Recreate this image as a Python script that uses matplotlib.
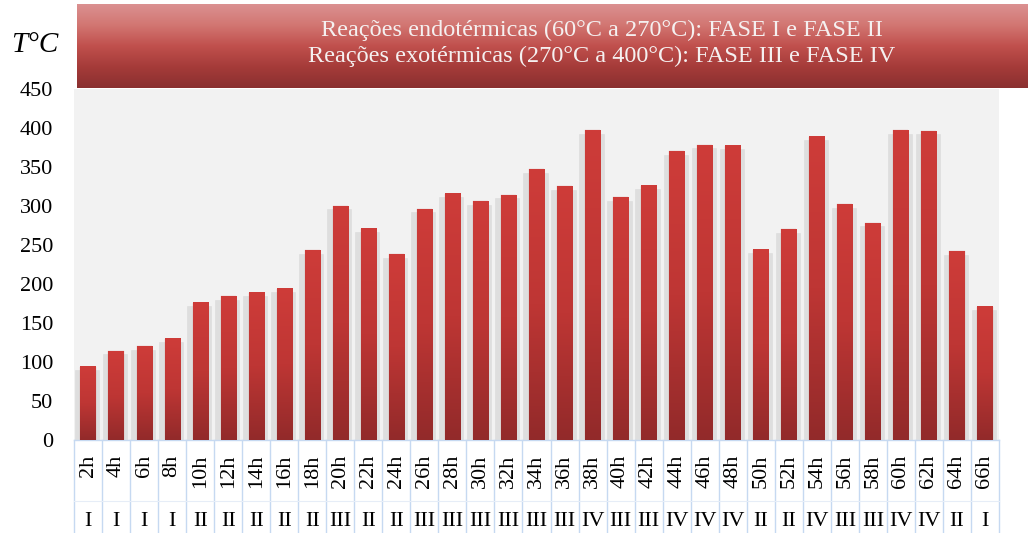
import numpy as np
import matplotlib
matplotlib.use("Agg")
import matplotlib.pyplot as plt
import matplotlib.patheffects as pe
from matplotlib.colors import LinearSegmentedColormap
from matplotlib.transforms import blended_transform_factory

plt.rcParams['font.family'] = ['Liberation Serif', 'DejaVu Serif']

horas = ['2h', '4h', '6h', '8h', '10h', '12h', '14h', '16h', '18h', '20h', '22h',
         '24h', '26h', '28h', '30h', '32h', '34h', '36h', '38h', '40h', '42h', '44h',
         '46h', '48h', '50h', '52h', '54h', '56h', '58h', '60h', '62h', '64h', '66h']
temperaturas = [94, 114, 120, 130, 176, 184, 189, 194, 243, 300, 271,
                238, 296, 316, 306, 314, 347, 325, 397, 311, 326, 370,
                378, 377, 244, 270, 389, 302, 278, 397, 396, 242, 171]
fases = ['I', 'I', 'I', 'I', 'II', 'II', 'II', 'II', 'II', 'III', 'II',
         'II', 'III', 'III', 'III', 'III', 'III', 'III', 'IV', 'III', 'III', 'IV',
         'IV', 'IV', 'II', 'II', 'IV', 'III', 'III', 'IV', 'IV', 'II', 'I']
yticks = [0, 50, 100, 150, 200, 250, 300, 350, 400, 450]
titulo = ("Reações endotérmicas (60°C a 270°C): FASE I e FASE II\n"
          "Reações exotérmicas (270°C a 400°C): FASE III e FASE IV")

W, H = 1028, 533
fig = plt.figure(figsize=(W / 100, H / 100), dpi=100)
fig.patch.set_facecolor('white')

# eixo principal (em pixels: x 74..999, y 89..440)
ax = fig.add_axes([74 / W, (H - 440) / H, (999 - 74) / W, (440 - 89) / H])
ax.set_facecolor('#F2F2F2')
for s in ax.spines.values():
    s.set_visible(False)

x = np.arange(len(horas))
# sombra cinza um pouco mais larga que a barra, deslocada para baixo
sombra = [pe.Stroke(offset=(-0.4, -6.0), linewidth=7.0, foreground='#DEDEDE'), pe.Normal()]
barras = ax.bar(x, temperaturas, width=0.54, color='#C0392F', edgecolor='#C0392F',
                linewidth=0.1, zorder=2, path_effects=sombra)

# gradiente vertical em cada barra
cmap_barra = LinearSegmentedColormap.from_list('barra', ['#922A2A', '#BE3634', '#CE3C39'])
grad = np.linspace(1, 0, 256)[:, None]
for b in barras:
    x0, w, h = b.get_x(), b.get_width(), b.get_height()
    ax.imshow(grad, extent=(x0, x0 + w, 0, h), aspect='auto', cmap=cmap_barra,
              interpolation='bilinear', zorder=3)

ax.set_xlim(-0.5, len(horas) - 0.5)
ax.set_ylim(0, 450)
ax.set_yticks(yticks)
ax.set_yticklabels([str(v) for v in yticks], fontsize=16)
ax.set_xticks([])
ax.tick_params(axis='y', length=0, pad=15)

# tabela abaixo do eixo
trans = blended_transform_factory(ax.transData, ax.transAxes)
fundo = -(H - 440) / (440 - 89)
for i in range(len(horas) + 1):
    ax.plot([i - 0.5, i - 0.5], [0, fundo], color='#C6D9F1', lw=1, transform=trans, clip_on=False)
ax.plot([-0.5, len(horas) - 0.5], [0, 0], color='#C6D9F1', lw=1, transform=trans, clip_on=False)
ax.plot([-0.5, len(horas) - 0.5], [-61 / 351, -61 / 351], color='#E6EDF7', lw=0.8,
        transform=trans, clip_on=False)
for i, (hr, fs) in enumerate(zip(horas, fases)):
    ax.text(i, -15 / 351, hr, rotation=90, ha='center', va='top', fontsize=16,
            transform=trans)
    ax.text(i, -82 / 351, fs, ha='center', va='center', fontsize=16, transform=trans)

# T°C
fig.text(35 / W, 1 - 45 / H, 'T°C', fontsize=21, style='italic', ha='center', va='center')

# caixa do título com gradiente (rosa em cima, vermelho escuro embaixo)
axt = fig.add_axes([77 / W, (H - 88) / H, (W - 77) / W, 84 / H])
cmap_tit = LinearSegmentedColormap.from_list('tit', ['#DB9191', '#D27672', '#C0504D', '#A53B39', '#8A3030'])
axt.imshow(np.linspace(0, 1, 256)[:, None], aspect='auto', cmap=cmap_tit,
           extent=(0, 1, 0, 1), origin='upper', interpolation='bilinear')
axt.set_xlim(0, 1)
axt.set_ylim(0, 1)
axt.axis('off')
fig.text(602 / W, 1 - 43 / H, titulo, color='#F5F0F0', fontsize=17.5, ha='center', va='center',
         linespacing=1.3)

fig.savefig('out.png', dpi=100)
